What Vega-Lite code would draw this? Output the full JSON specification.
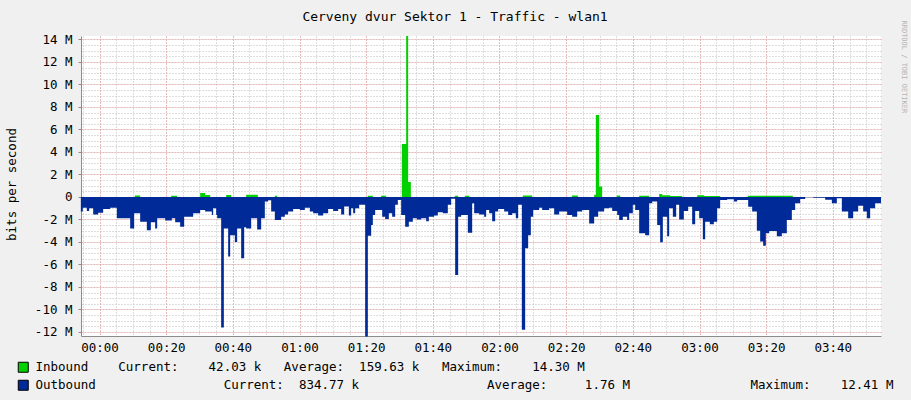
{
  "$schema": "https://vega.github.io/schema/vega-lite/v6.json",
  "width": 800,
  "height": 300,
  "autosize": {"type": "none"},
  "padding": {"left": 81, "top": 36, "right": 30, "bottom": 64},
  "background": "#F0F0F0",
  "view": {"fill": "#FFFFFF", "stroke": null},
  "title": {"text": "Cerveny dvur Sektor 1 - Traffic - wlan1", "font": "DejaVu Sans Mono", "fontSize": 13, "fontWeight": "normal", "color": "#000000", "anchor": "middle", "dx": -26, "offset": -17, "baseline": "bottom"},
  "datasets": {
    "inbound": [
      {"t": -5.6, "v": 0}, {"t": 10.6, "v": 0.12}, {"t": 12.2, "v": 0}, {"t": 21.5, "v": 0.1}, {"t": 23.3, "v": 0},
      {"t": 30.2, "v": 0.36}, {"t": 31.7, "v": 0.18}, {"t": 33.2, "v": 0}, {"t": 38.0, "v": 0.18}, {"t": 39.5, "v": 0},
      {"t": 44.0, "v": 0.2}, {"t": 47.5, "v": 0}, {"t": 52.6, "v": 0.1}, {"t": 53.3, "v": 0}, {"t": 80.5, "v": 0.1},
      {"t": 82.0, "v": 0}, {"t": 84.5, "v": 0.1}, {"t": 86.0, "v": 0}, {"t": 90.7, "v": 4.7}, {"t": 92.0, "v": 14.3},
      {"t": 92.6, "v": 1.33}, {"t": 93.4, "v": 0}, {"t": 106.6, "v": 0.1}, {"t": 107.6, "v": 0}, {"t": 109.6, "v": 0.1},
      {"t": 111.0, "v": 0}, {"t": 127.0, "v": 0.12}, {"t": 129.8, "v": 0}, {"t": 141.7, "v": 0.12}, {"t": 143.5, "v": 0},
      {"t": 148.4, "v": 0.2}, {"t": 148.9, "v": 7.29}, {"t": 149.9, "v": 0.92}, {"t": 150.8, "v": 0}, {"t": 155.2, "v": 0.12},
      {"t": 156.2, "v": 0}, {"t": 161.9, "v": 0.1}, {"t": 164.9, "v": 0}, {"t": 167.9, "v": 0.27}, {"t": 168.8, "v": 0.15},
      {"t": 171.2, "v": 0.08}, {"t": 174.8, "v": 0}, {"t": 179.3, "v": 0.15}, {"t": 181.4, "v": 0.08}, {"t": 186.2, "v": 0},
      {"t": 194.5, "v": 0.1}, {"t": 208.0, "v": 0}, {"t": 234.45, "v": 0}
    ],
    "outbound": [
      {"t": -5.6, "v": -1.3}, {"t": -5.0, "v": -0.95}, {"t": -3.8, "v": -1.25}, {"t": -3.1, "v": -1.0}, {"t": -1.9, "v": -1.55},
      {"t": -0.4, "v": -1.4}, {"t": 1.1, "v": -1.07}, {"t": 3.2, "v": -0.95}, {"t": 5.2, "v": -1.9}, {"t": 9.2, "v": -2.8},
      {"t": 10.4, "v": -1.45}, {"t": 12.2, "v": -2.2}, {"t": 14.2, "v": -2.95}, {"t": 15.4, "v": -2.25}, {"t": 16.7, "v": -2.8},
      {"t": 17.3, "v": -1.9}, {"t": 19.7, "v": -2.1}, {"t": 21.7, "v": -1.9}, {"t": 22.7, "v": -2.25}, {"t": 24.2, "v": -2.65},
      {"t": 25.4, "v": -1.75}, {"t": 28.1, "v": -1.45}, {"t": 30.2, "v": -1.15}, {"t": 31.7, "v": -1.3}, {"t": 33.7, "v": -1.6},
      {"t": 34.1, "v": -1.0}, {"t": 35.0, "v": -1.6}, {"t": 35.3, "v": -1.9}, {"t": 36.5, "v": -11.6}, {"t": 37.3, "v": -2.8},
      {"t": 38.6, "v": -5.3}, {"t": 39.2, "v": -3.4}, {"t": 40.6, "v": -4.0}, {"t": 41.3, "v": -2.8}, {"t": 42.5, "v": -5.45},
      {"t": 43.4, "v": -2.7}, {"t": 44.0, "v": -2.8}, {"t": 45.5, "v": -1.9}, {"t": 47.3, "v": -2.9}, {"t": 48.5, "v": -1.9},
      {"t": 49.6, "v": -0.4}, {"t": 50.6, "v": -0.3}, {"t": 51.5, "v": -1.3}, {"t": 52.6, "v": -2.05}, {"t": 54.5, "v": -1.75},
      {"t": 55.6, "v": -1.55}, {"t": 56.6, "v": -1.3}, {"t": 58.1, "v": -1.07}, {"t": 60.1, "v": -1.15}, {"t": 61.6, "v": -0.95},
      {"t": 63.1, "v": -1.3}, {"t": 64.1, "v": -1.45}, {"t": 65.6, "v": -1.65}, {"t": 67.1, "v": -1.45}, {"t": 68.6, "v": -1.07},
      {"t": 70.1, "v": -1.25}, {"t": 71.6, "v": -1.07}, {"t": 72.5, "v": -1.55}, {"t": 73.4, "v": -0.85}, {"t": 74.8, "v": -1.65},
      {"t": 75.5, "v": -1.0}, {"t": 76.1, "v": -1.45}, {"t": 76.7, "v": -1.0}, {"t": 77.9, "v": -0.7}, {"t": 79.7, "v": -12.4},
      {"t": 80.5, "v": -3.44}, {"t": 81.5, "v": -2.5}, {"t": 82.0, "v": -1.6}, {"t": 82.7, "v": -1.15}, {"t": 84.8, "v": -1.75},
      {"t": 85.7, "v": -1.95}, {"t": 86.8, "v": -1.45}, {"t": 87.8, "v": -1.75}, {"t": 88.7, "v": -0.7}, {"t": 89.5, "v": -0.27},
      {"t": 90.5, "v": -1.6}, {"t": 91.7, "v": -2.65}, {"t": 92.8, "v": -2.2}, {"t": 94.0, "v": -1.9}, {"t": 95.2, "v": -2.0},
      {"t": 96.5, "v": -1.9}, {"t": 98.0, "v": -2.15}, {"t": 98.8, "v": -1.75}, {"t": 100.4, "v": -1.65}, {"t": 101.5, "v": -1.35},
      {"t": 103.0, "v": -1.45}, {"t": 104.5, "v": -0.7}, {"t": 105.5, "v": -0.15}, {"t": 106.7, "v": -6.93}, {"t": 107.6, "v": -1.75},
      {"t": 108.5, "v": -1.6}, {"t": 110.5, "v": -3.17}, {"t": 111.8, "v": -0.56}, {"t": 112.4, "v": -1.45}, {"t": 113.9, "v": -1.55},
      {"t": 115.4, "v": -1.75}, {"t": 116.0, "v": -1.15}, {"t": 116.9, "v": -1.45}, {"t": 117.8, "v": -2.15}, {"t": 118.7, "v": -1.3},
      {"t": 119.6, "v": -1.07}, {"t": 121.4, "v": -1.3}, {"t": 122.6, "v": -1.6}, {"t": 123.8, "v": -1.45}, {"t": 124.9, "v": -1.9},
      {"t": 125.6, "v": -0.7}, {"t": 126.7, "v": -11.8}, {"t": 127.7, "v": -4.56}, {"t": 128.6, "v": -3.4}, {"t": 129.4, "v": -1.75},
      {"t": 130.1, "v": -1.15}, {"t": 131.9, "v": -0.95}, {"t": 132.8, "v": -1.15}, {"t": 134.9, "v": -1.0}, {"t": 136.4, "v": -1.55},
      {"t": 137.9, "v": -1.3}, {"t": 140.3, "v": -1.6}, {"t": 141.8, "v": -1.75}, {"t": 143.3, "v": -1.3}, {"t": 144.8, "v": -1.15},
      {"t": 146.9, "v": -2.35}, {"t": 148.4, "v": -1.75}, {"t": 149.6, "v": -1.3}, {"t": 151.4, "v": -1.0}, {"t": 152.9, "v": -0.95},
      {"t": 153.8, "v": -1.25}, {"t": 155.3, "v": -1.6}, {"t": 155.9, "v": -2.05}, {"t": 157.0, "v": -1.75}, {"t": 158.3, "v": -2.05},
      {"t": 158.9, "v": -1.45}, {"t": 160.0, "v": -0.7}, {"t": 160.7, "v": -1.15}, {"t": 161.9, "v": -3.23}, {"t": 163.7, "v": -3.4},
      {"t": 164.9, "v": -0.56}, {"t": 165.8, "v": -0.4}, {"t": 167.3, "v": -2.5}, {"t": 168.2, "v": -4.03}, {"t": 169.0, "v": -1.75},
      {"t": 170.3, "v": -3.5}, {"t": 170.9, "v": -1.0}, {"t": 172.0, "v": -1.75}, {"t": 173.0, "v": -0.7}, {"t": 173.9, "v": -2.0},
      {"t": 175.3, "v": -1.25}, {"t": 176.6, "v": -0.86}, {"t": 177.8, "v": -2.43}, {"t": 178.7, "v": -1.25}, {"t": 179.9, "v": -1.9},
      {"t": 181.0, "v": -3.76}, {"t": 181.7, "v": -2.2}, {"t": 183.1, "v": -2.43}, {"t": 184.3, "v": -2.2}, {"t": 185.3, "v": -1.0},
      {"t": 186.2, "v": -0.27}, {"t": 188.3, "v": -0.2}, {"t": 190.3, "v": -0.4}, {"t": 191.3, "v": -0.27}, {"t": 194.6, "v": -0.86},
      {"t": 195.8, "v": -1.3}, {"t": 197.2, "v": -3.0}, {"t": 198.2, "v": -3.97}, {"t": 199.1, "v": -4.33}, {"t": 199.9, "v": -3.23},
      {"t": 200.9, "v": -3.02}, {"t": 203.2, "v": -3.5}, {"t": 204.7, "v": -3.23}, {"t": 206.2, "v": -2.05}, {"t": 207.7, "v": -1.15},
      {"t": 208.7, "v": -0.56}, {"t": 210.2, "v": -0.18}, {"t": 211.7, "v": -0.03}, {"t": 214.1, "v": -0.06}, {"t": 217.7, "v": -0.24},
      {"t": 219.7, "v": -0.56}, {"t": 221.2, "v": -0.12}, {"t": 222.7, "v": -1.3}, {"t": 224.6, "v": -1.9}, {"t": 226.1, "v": -1.3},
      {"t": 227.6, "v": -0.77}, {"t": 229.1, "v": -1.3}, {"t": 230.2, "v": -1.9}, {"t": 231.2, "v": -1.0}, {"t": 232.7, "v": -0.56},
      {"t": 234.45, "v": -0.56}
    ]
  },
  "layer": [
    {
      "data": {"name": "inbound"},
      "mark": {"type": "area", "interpolate": "step-after", "opacity": 1},
      "encoding": {
        "x": {"field": "t", "type": "quantitative", "scale": {"domain": [-5.55, 234.45], "nice": false, "zero": false},
          "axis": {"orient": "bottom", "values": [-5, 0, 5, 10, 15, 20, 25, 30, 35, 40, 45, 50, 55, 60, 65, 70, 75, 80, 85, 90, 95, 100, 105, 110, 115, 120, 125, 130, 135, 140, 145, 150, 155, 160, 165, 170, 175, 180, 185, 190, 195, 200, 205, 210, 215, 220, 225, 230],
            "grid": true, "gridColor": "#BDBDBD", "gridDash": [1, 2], "gridWidth": 1, "labels": false, "ticks": false, "domain": false, "title": null}},
        "y": {"field": "v", "type": "quantitative", "scale": {"domain": [-12.36, 14.31], "nice": false, "zero": false},
          "axis": {"orient": "right", "values": [-12, -11.5, -11, -10.5, -10, -9.5, -9, -8.5, -8, -7.5, -7, -6.5, -6, -5.5, -5, -4.5, -4, -3.5, -3, -2.5, -2, -1.5, -1, -0.5, 0, 0.5, 1, 1.5, 2, 2.5, 3, 3.5, 4, 4.5, 5, 5.5, 6, 6.5, 7, 7.5, 8, 8.5, 9, 9.5, 10, 10.5, 11, 11.5, 12, 12.5, 13, 13.5, 14],
            "grid": true, "gridColor": "#BDBDBD", "gridDash": [1, 2], "gridWidth": 1, "labels": false, "ticks": false, "domain": false,
            "title": "RRDTOOL / TOBI OETIKER", "titleFont": "DejaVu Sans Mono", "titleFontSize": 7, "titleFontWeight": "normal", "titleColor": "#B4B4B4",
            "titleAngle": 90, "titleAlign": "left", "titleBaseline": "middle", "titleX": 22, "titleY": -16}},
        "color": {"datum": "Inbound", "type": "nominal", "scale": {"domain": ["Inbound", "Outbound"], "range": ["#00CF00", "#002A97"]},
          "legend": {
            "orient": "none", "legendX": -64, "legendY": 325, "direction": "vertical", "title": null,
            "symbolType": "square", "symbolSize": 100, "symbolStrokeColor": "#000000", "symbolStrokeWidth": 1, "symbolOpacity": 1,
            "labelFont": "DejaVu Sans Mono", "labelFontSize": 12.5, "labelColor": "#000000", "labelLimit": 2000, "labelOffset": 6, "rowPadding": 3,
            "labelExpr": "datum.label == 'Inbound' ? 'Inbound\u00a0\u00a0\u00a0\u00a0Current:\u00a0\u00a0\u00a0\u00a042.03 k\u00a0\u00a0\u00a0Average:\u00a0\u00a0159.63 k\u00a0\u00a0\u00a0Maximum:\u00a0\u00a0\u00a0\u00a014.30 M' : 'Outbound\u00a0\u00a0\u00a0\u00a0\u00a0\u00a0\u00a0\u00a0\u00a0\u00a0\u00a0\u00a0\u00a0\u00a0\u00a0\u00a0\u00a0Current:\u00a0\u00a0834.77 k\u00a0\u00a0\u00a0\u00a0\u00a0\u00a0\u00a0\u00a0\u00a0\u00a0\u00a0\u00a0\u00a0\u00a0\u00a0\u00a0\u00a0Average:\u00a0\u00a0\u00a0\u00a0\u00a01.76 M\u00a0\u00a0\u00a0\u00a0\u00a0\u00a0\u00a0\u00a0\u00a0\u00a0\u00a0\u00a0\u00a0\u00a0\u00a0\u00a0Maximum:\u00a0\u00a0\u00a0\u00a012.41 M'"
          }}
      }
    },
    {
      "data": {"name": "outbound"},
      "mark": {"type": "area", "interpolate": "step-after", "opacity": 1},
      "encoding": {
        "x": {"field": "t", "type": "quantitative",
          "axis": {"orient": "bottom", "values": [0, 20, 40, 60, 80, 100, 120, 140, 160, 180, 200, 220],
            "labelExpr": "utcFormat(datum.value * 60000, '%H:%M')",
            "grid": true, "gridColor": "#F29999", "gridDash": [1, 2], "gridWidth": 1, "ticks": false,
            "domain": true, "domainColor": "#8C8C8C", "domainWidth": 1,
            "labelFont": "DejaVu Sans Mono", "labelFontSize": 12.5, "labelColor": "#000000", "labelPadding": 5, "labelFlush": false, "title": null}},
        "y": {"field": "v", "type": "quantitative",
          "axis": {"orient": "left", "values": [-12, -10, -8, -6, -4, -2, 0, 2, 4, 6, 8, 10, 12, 14],
            "labelExpr": "datum.value == 0 ? '0' : datum.value + ' M'",
            "grid": true, "gridColor": "#F29999", "gridDash": [1, 2], "gridWidth": 1,
            "ticks": true, "tickSize": 3, "tickColor": "#8C8C8C",
            "domain": true, "domainColor": "#8C8C8C", "domainWidth": 1,
            "labelFont": "DejaVu Sans Mono", "labelFontSize": 12.5, "labelColor": "#000000", "labelPadding": 6,
            "title": "bits per second", "titleFont": "DejaVu Sans Mono", "titleFontSize": 12.5, "titleFontWeight": "normal", "titleColor": "#000000",
            "titleAngle": -90, "titleAlign": "center", "titleBaseline": "middle", "titleX": -70, "titleY": 148}},
        "color": {"datum": "Outbound", "type": "nominal"}
      }
    }
  ],
  "resolve": {"axis": {"x": "independent", "y": "independent"}}
}
